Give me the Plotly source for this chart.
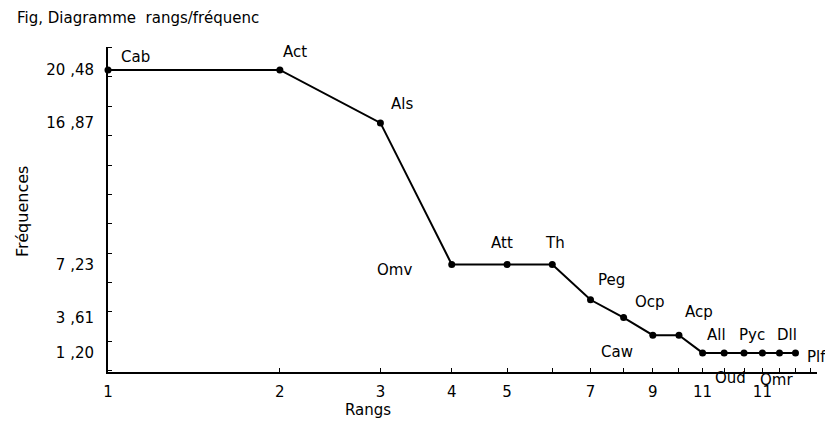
import plotly.graph_objects as go
import math

# Data
ranks = list(range(1, 17))
freqs = [20.48, 20.48, 16.87, 7.23, 7.23, 7.23, 4.82, 3.61, 2.41, 2.41, 1.20, 1.20, 1.20, 1.20, 1.20, 1.20]
names = ["Cab", "Act", "Als", "Omv", "Att", "Th", "Peg", "Ocp", "Caw", "Acp", "All", "Oud", "Pyc", "Omr", "Dll", "Plf"]
# pixel offsets of each name relative to its point
label_dx = [27, 15, 22, -57, -5, 3, 21, 26, -36, 20, 14, 6, 8, 14, 8, 21]
label_dy = [-13, -18, -19, 6, -21, -21, -20, -16, 17, -23, -18, 25, -18, 27, -18, 4]

y_tick_vals = [20.48, 16.87, 7.23, 3.61, 1.20]
y_tick_text = ["20 ,48", "16 ,87", "7 ,23", "3 ,61", "1 ,20"]
x_tick_vals = list(range(1, 18))
x_tick_text = ["1", "2", "3", "4", "5", "", "7", "", "9", "", "11", "", "", "11", "", "", ""]

FONT = "DejaVu Sans"
FS = 15

# page has an 8px body margin; lay out in reference pixel coordinates
OFF = 8
W, H = 833 - OFF, 443 - OFF
L, R, T, B = 108 - OFF, 16, 47 - OFF, 71
pw, ph = W - L - R, H - T - B

def px(xr):
    return (xr - OFF - L) / pw

def py(yr):
    return (H - B - (yr - OFF)) / ph

fig = go.Figure()
fig.add_trace(go.Scatter(
    x=ranks, y=freqs, mode="lines+markers",
    line=dict(color="black", width=2),
    marker=dict(color="black", size=7),
    cliponaxis=False, showlegend=False, hoverinfo="skip",
))

for r, f, n, dx, dy in zip(ranks, freqs, names, label_dx, label_dy):
    fig.add_annotation(x=math.log10(r), y=f, xref="x", yref="y", text=n,
                       showarrow=False, xshift=dx, yshift=-dy,
                       xanchor="center", yanchor="middle",
                       font=dict(family=FONT, size=FS, color="black"))

fig.add_annotation(x=px(368), y=py(410), xref="paper", yref="paper", text="Rangs",
                   xanchor="center", yanchor="middle",
                   showarrow=False, font=dict(family=FONT, size=FS, color="black"))
fig.add_annotation(x=px(22), y=py(212), xref="paper", yref="paper", text="Fréquences",
                   xanchor="center", yanchor="middle",
                   textangle=-90, showarrow=False, font=dict(family=FONT, size=FS + 1, color="black"))
fig.add_annotation(x=px(15), y=py(18), xref="paper", yref="paper", text="Fig, Diagramme  rangs/fréquenc",
                   xanchor="left", yanchor="middle", showarrow=False,
                   font=dict(family=FONT, size=FS, color="black"))

fig.update_layout(
    width=W, height=H,
    margin=dict(l=L, r=R, t=T, b=B, autoexpand=False),
    paper_bgcolor="white", plot_bgcolor="white",
    font=dict(family=FONT, size=FS, color="black"),
    xaxis=dict(type="log", range=[0, math.log10(17.45)],
               tickmode="array", tickvals=x_tick_vals, ticktext=x_tick_text,
               ticks="inside", ticklen=4, tickcolor="black", tickwidth=1.2,
               showgrid=False, zeroline=False, showline=True, linecolor="black", linewidth=2,
               ticklabelstandoff=5, automargin=False),
    yaxis=dict(range=[-0.1, 22.04],
               tickmode="array", tickvals=y_tick_vals, ticktext=y_tick_text,
               ticks="", showgrid=False, zeroline=False,
               showline=True, linecolor="black", linewidth=2,
               ticklabelstandoff=9, automargin=False,
               minor=dict(tickmode="array", tickvals=list(range(0, 23, 2)),
                          ticks="inside", ticklen=4, tickcolor="black", tickwidth=1.2, showgrid=False)),
)

fig.write_html("out.html")
